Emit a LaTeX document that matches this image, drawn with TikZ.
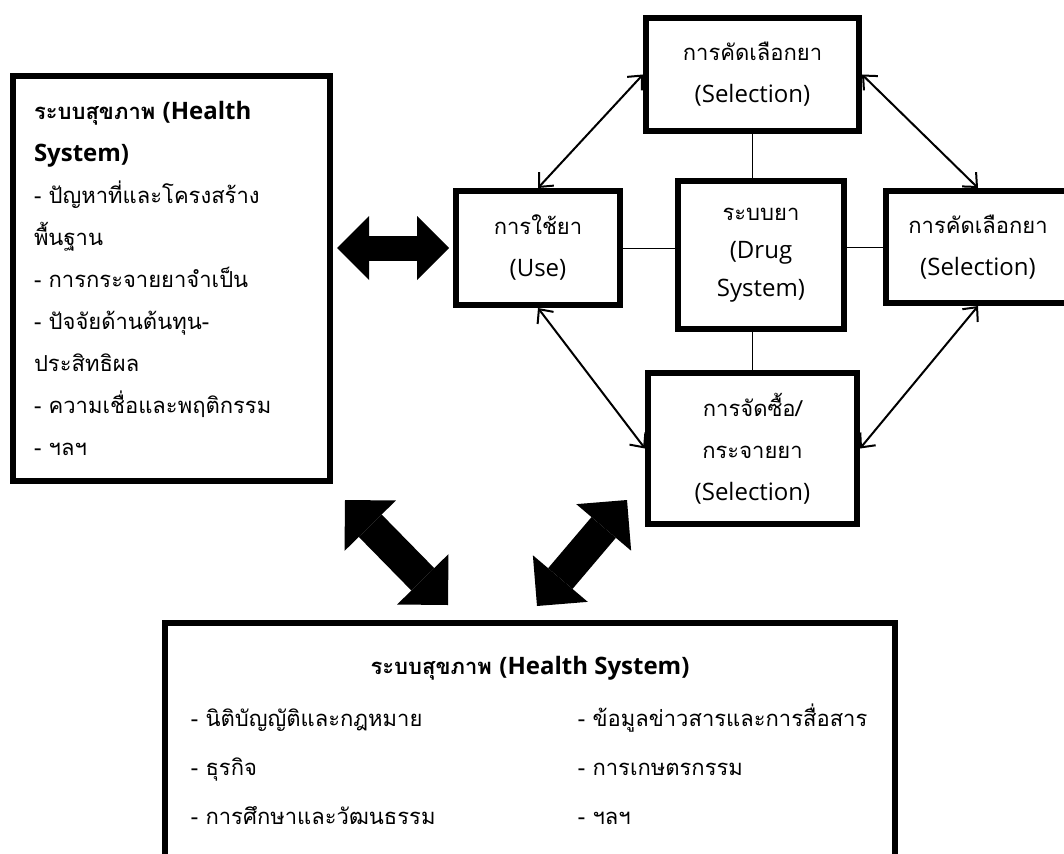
\documentclass[tikz,border=0pt]{standalone}
\usepackage{fontspec}
\setmainfont{Loma}[Script=Thai]
\newfontfamily\latinfont{Open Sans}
\newcommand{\en}[1]{{\latinfont\fontsize{24}{42}\selectfont #1}}
\usetikzlibrary{arrows.meta,calc}

\begin{document}
\begin{tikzpicture}
[x=1pt, y=-1pt, font=\fontsize{22}{42}\selectfont, line width=1pt,
box/.style={rectangle, draw, line width=6pt, align=center, inner sep=0pt},
link/.style={line width=2pt, {Straight Barb[length=11pt,width=20pt]}-{Straight Barb[length=11pt,width=20pt]}},
fatarrow/.style={line width=25pt, {Triangle[length=32pt,width=64pt,line width=0pt]}-{Triangle[length=32pt,width=64pt,line width=0pt]}},
fatdiag/.style={line width=32pt, {Triangle[length=36pt,width=72pt,line width=0pt]}-{Triangle[length=36pt,width=72pt,line width=0pt]}}]

\clip (0,0) rectangle (1064,853);
\fill[white] (0,0) rectangle (1064,853);

% health system (left)
\node[box, minimum width=317pt, minimum height=405pt, text width=275pt, align=left] (health) at (171.5,278.5)
  {\textbf{ระบบสุขภาพ \en{(Health}}\\\textbf{\en{System)}}\\- ปัญหาที่และโครงสร้าง\\พื้นฐาน\\- การกระจายยาจำเป็น\\- ปัจจัยด้านต้นทุน-\\ประสิทธิผล\\- ความเชื่อและพฤติกรรม\\- ฯลฯ};

% drug system
\node[box, minimum width=213pt, minimum height=113pt] (select) at (752.5,74.5) {การคัดเลือกยา\\\en{(Selection)}};
\node[box, minimum width=164pt, minimum height=114pt] (use) at (538,248) {การใช้ยา\\\en{(Use)}};
\node[box, minimum width=166pt, minimum height=148pt, font=\fontsize{22}{38}\selectfont] (drug) at (761,255) {ระบบยา\\\en{(Drug}\\\en{System)}};
\node[box, minimum width=184pt, minimum height=112pt] (select2) at (978,247) {การคัดเลือกยา\\\en{(Selection)}};
\node[box, minimum width=209pt, minimum height=151pt] (supply) at (752.5,448.5) {การจัดซื้อ/\\กระจายยา\\\en{(Selection)}};

\draw (select.south) -- (select.south |- drug.north);
\draw (use.east) -- (use.east -| drug.west);
\draw (select2.west -| drug.east) -- (select2.west);
\draw (supply.north |- drug.south) -- (supply.north);

\draw[link] (use.north) -- (select.west);
\draw[link] (select.east) -- (select2.north);
\draw[link] (use.south) -- (supply.west);
\draw[link] (select2.south) -- (supply.east);

% big arrows
\draw[fatarrow, shorten <=4pt, shorten >=4pt] (health.east |- use.west) -- (use.west);
\coordinate (dl1) at (345,500);
\coordinate (dl2) at (448,605);
\coordinate (dr1) at (627,500);
\coordinate (dr2) at (537,606);
\draw[fatdiag] (dl1) -- (dl2);
\draw[fatdiag] (dr1) -- (dr2);

% health system (bottom)
\node[box, minimum width=730pt, minimum height=280pt] (context) at (530,763) {};
\node (ctitle) at (530,668) {\textbf{ระบบสุขภาพ \en{(Health System)}}};
\foreach \t [count=\i] in {- นิติบัญญัติและกฎหมาย, - ธุรกิจ, - การศึกษาและวัฒนธรรม}
  \node[anchor=base west] (cl\i) at (187,677+49*\i) {\t};
\foreach \t [count=\i] in {- ข้อมูลข่าวสารและการสื่อสาร, - การเกษตรกรรม, - ฯลฯ}
  \node[anchor=base west] (cr\i) at (574,677+49*\i) {\t};
\end{tikzpicture}
\end{document}
